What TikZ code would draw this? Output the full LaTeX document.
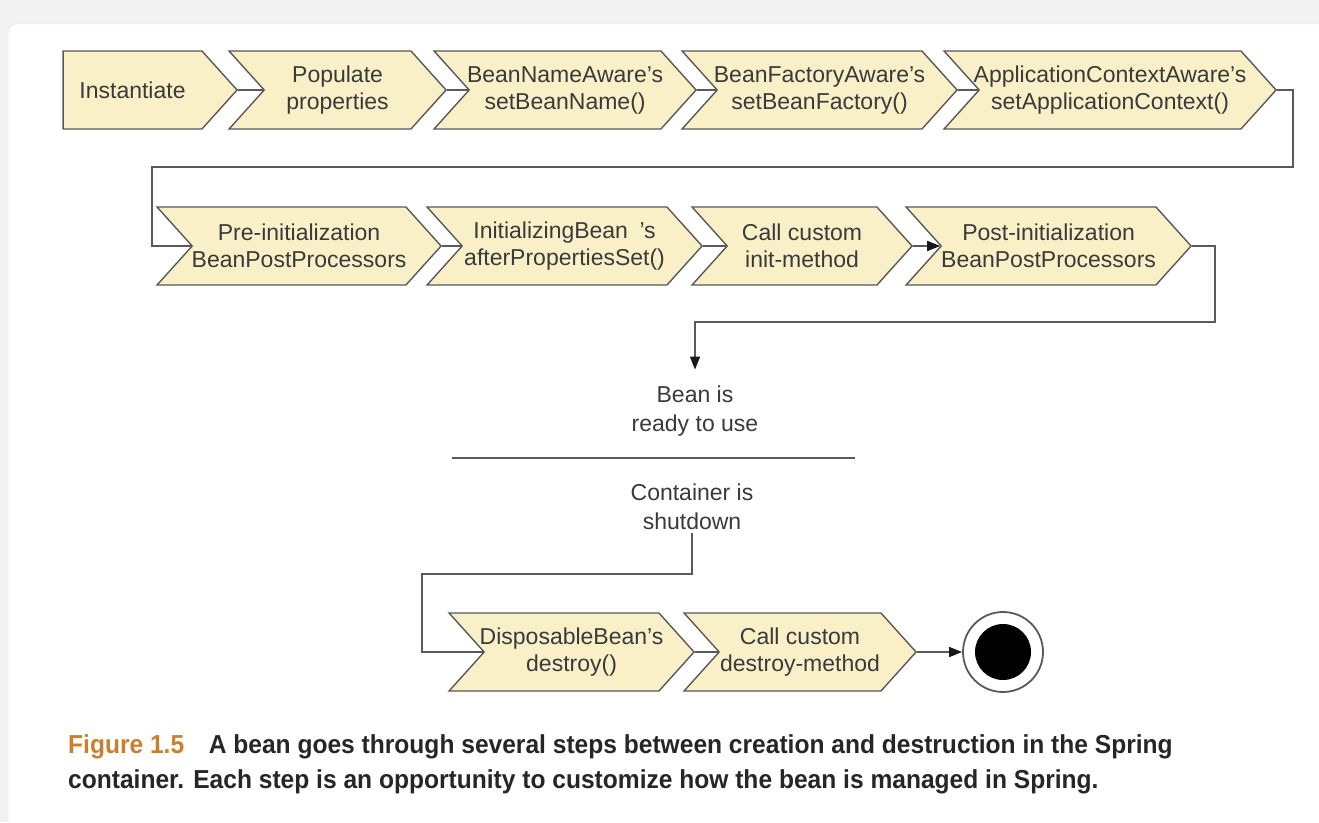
\documentclass[tikz,border=0pt]{standalone}
\usepackage{fontspec}
\setsansfont{Liberation Sans}
\usetikzlibrary{shapes.symbols,arrows.meta}

\definecolor{stepfill}{HTML}{FAF0C8}
\definecolor{stepline}{HTML}{595959}
\definecolor{steptext}{HTML}{3A3A3A}
\definecolor{figorange}{HTML}{C8802E}

\tikzset{
    stepbox/.style={signal, signal to=east, signal from=west, signal pointer angle=96,
        draw=stepline, line width=1.4pt, fill=stepfill, text=steptext,
        minimum height=78pt, inner xsep=-15pt, inner ysep=0pt, align=center,
        font=\sffamily\fontsize{23}{27}\selectfont},
    conn/.style={draw=stepline, line width=1.6pt},
    plaintext/.style={align=center, text=steptext, font=\sffamily\fontsize{23}{29}\selectfont}
}

\begin{document}
\begin{tikzpicture}[x=1pt, y=-1pt, >={Triangle[length=13pt,width=10pt,color=black!90]}]
    % 背景与卡片
    \useasboundingbox (0,0) rectangle (1319,822);
    \clip (0,0) rectangle (1319,822);
    \fill[gray!10] (0,0) rectangle (1319,822);
    \filldraw[fill=white, draw=gray!25, rounded corners=8pt] (8,24) rectangle (1340,845);

    % 第一行步骤
    \node[stepbox, signal from=nowhere, minimum width=174pt, anchor=east] (inst) at (238,90) {Instantiate};
    \node[stepbox, minimum width=217pt, anchor=east] (pop) at (447,90) {Populate\\properties};
    \node[stepbox, minimum width=262pt, anchor=east] (bna) at (697,90) {BeanNameAware's\\setBeanName()};
    \node[stepbox, minimum width=275pt, anchor=east] (bfa) at (958,90) {BeanFactoryAware's\\setBeanFactory()};
    \node[stepbox, minimum width=332pt, anchor=east] (aca) at (1277,90) {ApplicationContextAware's\\setApplicationContext()};

    % 第二行步骤
    \node[stepbox, minimum width=284pt, anchor=east] (pre) at (442,246) {Pre-initialization\\BeanPostProcessors};
    \node[stepbox, minimum width=275pt, anchor=east] (ib) at (703,246) {InitializingBean\enspace's\\afterPropertiesSet()};
    \node[stepbox, minimum width=220pt, anchor=east] (cci) at (913,246) {Call custom\\init-method};
    \node[stepbox, minimum width=285pt, anchor=east] (post) at (1192,246) {Post-initialization\\BeanPostProcessors};

    % 中间状态
    \node[plaintext, inner ysep=16pt] (ready) at (695,411) {Bean is\\ready to use};
    \draw[stepline, line width=1.2pt] (452,458) -- (855,458);
    \node[plaintext] (shut) at (692,507) {Container is\\shutdown};

    % 销毁步骤
    \node[stepbox, minimum width=245pt, anchor=east] (dis) at (695,652) {DisposableBean's\\destroy()};
    \node[stepbox, minimum width=232pt, anchor=east] (ccd) at (917,652) {Call custom\\destroy-method};
    \node[circle, draw=stepline, line width=1.8pt, fill=white, minimum size=80pt] (fin) at (1003,652) {};
    \node[circle, fill=black, minimum size=56pt] (dot) at (fin.center) {};

    % 折线拐点
    \coordinate (r1) at (1293,167);
    \coordinate (l1) at (152,246);
    \coordinate (r2) at (1215,322);
    \coordinate (l3) at (422,574);

    % 连接线
    \draw[conn] (inst.east) -- (pop.west);
    \draw[conn] (pop.east) -- (bna.west);
    \draw[conn] (bna.east) -- (bfa.west);
    \draw[conn] (bfa.east) -- (aca.west);
    \draw[conn] (aca.east) -| (r1) -| (l1) -- (pre.west);
    \draw[conn] (pre.east) -- (ib.west);
    \draw[conn] (ib.east) -- (cci.west);
    \draw[conn, ->] (cci.east) -- (post.west);
    \draw[conn, ->] (post.east) -| (r2) -| (ready.north);
    \draw[conn] (shut.south) |- (l3) |- (dis.west);
    \draw[conn] (dis.east) -- (ccd.west);
    \draw[conn, ->] (ccd.east) -- (fin.west);

    % 图注
    \node[anchor=north west, align=left, inner sep=0pt, xscale=0.945, transform shape,
        font=\sffamily\bfseries\fontsize{26}{35}\selectfont, text=black!85] (cap) at (68,734)
        {\textcolor{figorange}{Figure 1.5}\quad A bean goes through several steps between creation and destruction in the Spring\\
         container. Each step is an opportunity to customize how the bean is managed in Spring.};
\end{tikzpicture}
\end{document}
